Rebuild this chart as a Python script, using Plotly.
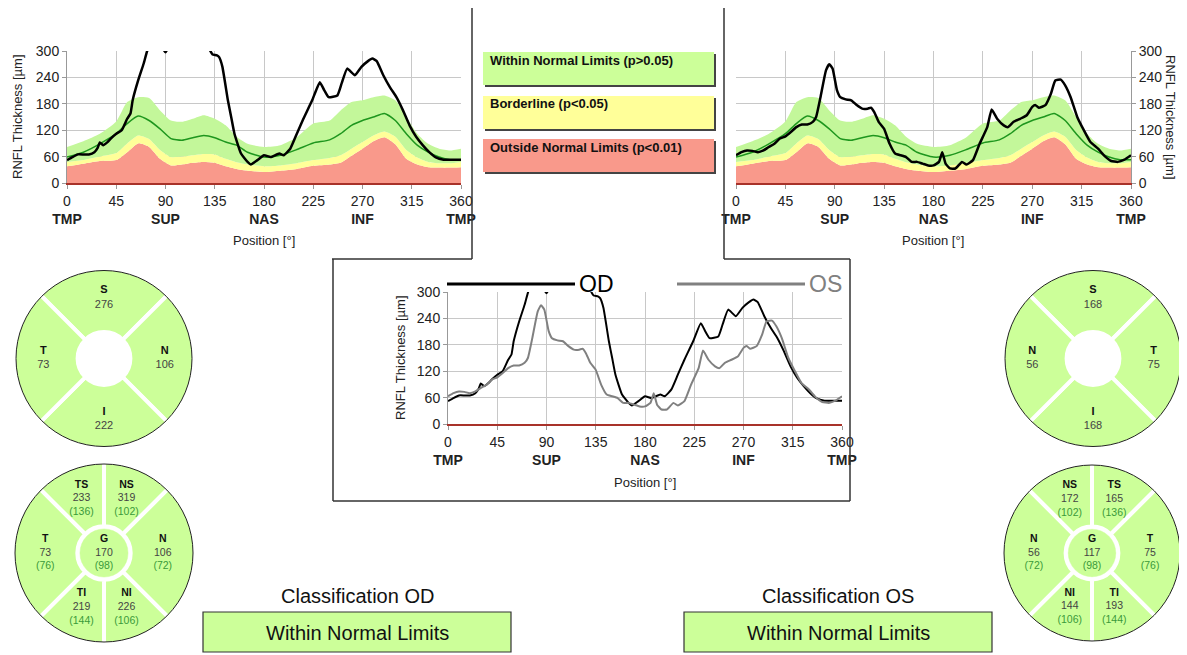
import plotly.graph_objects as go

W, H = 1187, 655
PAGE_OFFSET = 8  # default body margin of the html page

# ---------------- data ----------------
norm_deg  = [0, 15, 30, 45, 55, 65, 75, 85, 95, 105, 115, 125, 135, 145, 155, 165, 180, 195, 210, 225, 240, 250, 260, 270, 280, 290, 300, 310, 320, 330, 340, 350, 360]
norm_p95  = [82, 95, 112, 140, 184, 195, 193, 165, 142, 139, 146, 154, 146, 131, 105, 89, 82, 86, 104, 135, 142, 165, 184, 188, 195, 199, 188, 150, 112, 89, 78, 74, 78]
norm_mean = [59, 70, 89, 112, 135, 152, 142, 123, 101, 97, 103, 108, 103, 93, 86, 70, 59, 63, 76, 91, 98, 112, 131, 142, 150, 158, 142, 112, 86, 70, 59, 53, 53]
norm_p5   = [48, 52, 60, 68, 90, 108, 100, 75, 59, 60, 63, 66, 65, 55, 47, 42, 38, 40, 45, 52, 57, 63, 78, 93, 108, 117, 105, 75, 58, 48, 45, 45, 48]
norm_p1   = [38, 44, 50, 52, 70, 90, 82, 55, 40, 42, 46, 48, 46, 38, 32, 28, 25, 28, 32, 39, 42, 46, 62, 78, 95, 104, 88, 55, 42, 36, 35, 35, 36]

od_deg = [0, 5, 10, 15, 20, 25, 28, 30, 33, 37, 40, 45, 50, 55, 58, 60, 65, 70, 73, 78,
          84, 90, 96, 105, 115, 125, 131, 133, 137, 139, 142, 147, 150, 153, 159, 165, 168, 174, 180, 186,
          194, 198, 204, 210, 216, 224, 231, 235, 239, 247, 251, 256, 263, 269, 275, 279, 283, 289, 295, 301,
          307, 313, 319, 325, 331, 337, 344, 352, 360]
od_val = [52, 59, 65, 65, 65, 70, 80, 92, 86, 93, 101, 112, 120, 146, 158, 188, 233, 271, 298, 330,
          320, 297, 325, 345, 340, 330, 300, 292, 290, 286, 264, 188, 150, 112, 67, 48, 42, 52, 63, 59,
          67, 63, 78, 112, 146, 188, 229, 211, 195, 199, 227, 260, 245, 264, 277, 283, 277, 245, 218, 195,
          165, 131, 105, 86, 70, 58, 53, 53, 53]

os_deg = [0, 5, 10, 15, 20, 25, 30, 35, 40, 45, 50, 55, 60, 65, 70, 73, 77, 82, 85, 88,
          92, 95, 100, 105, 110, 115, 120, 123, 126, 130, 135, 140, 145, 150, 155, 160, 165, 170, 175, 180,
          185, 188, 191, 195, 200, 206, 210, 216, 222, 229, 233, 238, 244, 248, 253, 259, 265, 270, 273, 276,
          282, 287, 291, 296, 300, 305, 311, 317, 323, 330, 336, 342, 348, 354, 360]
os_val = [63, 70, 74, 73, 70, 74, 82, 89, 101, 106, 116, 127, 133, 133, 139, 150, 195, 256, 270, 260,
          211, 195, 190, 188, 177, 169, 169, 171, 161, 139, 123, 89, 67, 63, 59, 48, 48, 44, 40, 40,
          48, 70, 44, 33, 33, 48, 42, 52, 89, 127, 167, 146, 131, 127, 139, 146, 154, 173, 177, 171,
          177, 203, 233, 235, 222, 195, 150, 120, 93, 78, 61, 50, 48, 53, 63]

x_ticks = [0, 45, 90, 135, 180, 225, 270, 315, 360]
region_labels = {0: "TMP", 90: "SUP", 180: "NAS", 270: "INF", 360: "TMP"}
y_ticks = [0, 60, 120, 180, 240, 300]

legend_labels = ["Within Normal Limits (p&gt;0.05)", "Borderline (p&lt;0.05)", "Outside Normal Limits (p&lt;0.01)"]

# quadrant circles
od_quad_labels = ["S", "N", "I", "T"]
od_quad_theta = [90, 0, 270, 180]
od_quad_values = [276, 106, 222, 73]
os_quad_labels = ["S", "T", "I", "N"]
os_quad_theta = [90, 0, 270, 180]
os_quad_values = [168, 75, 168, 56]

# sector circles
sect_theta = [112.5, 67.5, 0, 292.5, 247.5, 180]
sect_width = [45, 45, 90, 45, 45, 90]
od_sect_labels = ["TS", "NS", "N", "NI", "TI", "T"]
od_sect_values = [233, 319, 106, 226, 219, 73]
od_sect_normals = [136, 102, 72, 106, 144, 76]
os_sect_labels = ["NS", "TS", "T", "TI", "NI", "N"]
os_sect_values = [172, 165, 75, 193, 144, 56]
os_sect_normals = [102, 136, 76, 144, 106, 72]
od_global, od_global_norm = 170, 98
os_global, os_global_norm = 117, 98

classification_od = "Within Normal Limits"
classification_os = "Within Normal Limits"

# ---------------- styling ----------------
FONT = "Arial, Liberation Sans, sans-serif"
RED = "#f9998b"
YEL = "#ffff99"
GRN = "#c3f79a"
GRN_BOX = "#ccff99"
MEAN = "#1e961e"
GRID = "#c8c8c8"
TICK_FONT = dict(size=14, color="#222", family=FONT)


def fx(x):
    return (x - PAGE_OFFSET) / W


def fy(y):
    return 1 - (y - PAGE_OFFSET) / H


fig = go.Figure()


def add_norm(xa, ya):
    sp = dict(width=0, shape="spline", smoothing=0.6)
    fig.add_trace(go.Scatter(x=norm_deg, y=norm_p1, xaxis=xa, yaxis=ya, mode="lines", line=sp,
                             fill="tozeroy", fillcolor=RED, hoverinfo="skip"))
    fig.add_trace(go.Scatter(x=norm_deg, y=norm_p5, xaxis=xa, yaxis=ya, mode="lines", line=sp,
                             fill="tonexty", fillcolor=YEL, hoverinfo="skip"))
    fig.add_trace(go.Scatter(x=norm_deg, y=norm_p95, xaxis=xa, yaxis=ya, mode="lines", line=sp,
                             fill="tonexty", fillcolor=GRN, hoverinfo="skip"))
    fig.add_trace(go.Scatter(x=norm_deg, y=norm_mean, xaxis=xa, yaxis=ya, mode="lines",
                             line=dict(color=MEAN, width=1.5, shape="spline", smoothing=0.6)))


add_norm("x", "y")
fig.add_trace(go.Scatter(x=od_deg, y=od_val, xaxis="x", yaxis="y", mode="lines",
                         line=dict(color="black", width=2.5, shape="spline", smoothing=0.4)))
add_norm("x2", "y2")
fig.add_trace(go.Scatter(x=os_deg, y=os_val, xaxis="x2", yaxis="y2", mode="lines",
                         line=dict(color="black", width=2.5, shape="spline", smoothing=0.4)))
fig.add_trace(go.Scatter(x=od_deg, y=od_val, xaxis="x3", yaxis="y3", mode="lines",
                         line=dict(color="black", width=2, shape="spline", smoothing=0.4)))
fig.add_trace(go.Scatter(x=os_deg, y=os_val, xaxis="x3", yaxis="y3", mode="lines",
                         line=dict(color="#808080", width=2, shape="spline", smoothing=0.4)))

tick_text = []
for v in x_ticks:
    lab = region_labels.get(v)
    tick_text.append(f"{v}<br><b>{lab}</b>" if lab else str(v))


def xax(x0, x1, anchor):
    return dict(domain=[fx(x0), fx(x1)], range=[0, 360], anchor=anchor, tickvals=x_ticks, ticktext=tick_text,
                showgrid=True, gridcolor=GRID, gridwidth=1, zeroline=False, showline=True,
                linecolor="#a8322a", linewidth=1.5, ticks="outside", ticklen=4, tickcolor="#999",
                tickfont=TICK_FONT, fixedrange=True, automargin=False)


def yax(y0, y1, anchor, side="left"):
    return dict(domain=[fy(y1), fy(y0)], range=[0, 300], anchor=anchor, side=side, tickvals=y_ticks,
                showgrid=True, gridcolor=GRID, gridwidth=1, zeroline=False, showline=True,
                linecolor="#999", linewidth=1, ticks="outside", ticklen=4, tickcolor="#999",
                tickfont=TICK_FONT, fixedrange=True, automargin=False)


# polar circles
def polar_layout(cx, cy, r):
    return dict(domain=dict(x=[fx(cx - r), fx(cx + r)], y=[fy(cy + r), fy(cy - r)]), bgcolor="white",
                radialaxis=dict(range=[0, 1], visible=False, showgrid=False),
                angularaxis=dict(visible=True, showgrid=False, showticklabels=False, ticks="",
                                 showline=True, linecolor="#222", linewidth=1, rotation=0,
                                 direction="counterclockwise"))


R_OUT = 1.023
BASE = 0.30


def add_quad(sub, labels, thetas, values):
    fig.add_trace(go.Barpolar(r=[R_OUT - BASE] * len(thetas), base=[BASE] * len(thetas), theta=thetas,
                              width=[90] * len(thetas), subplot=sub,
                              marker=dict(color=GRN_BOX, line=dict(color="white", width=4)), hoverinfo="skip"))
    txt = [f"<b>{l}</b><br><span style='color:#444'>{v}</span>" for l, v in zip(labels, values)]
    fig.add_trace(go.Scatterpolar(r=[0.69] * len(thetas), theta=thetas, mode="text", text=txt, subplot=sub,
                                  textfont=dict(size=11, color="#111", family=FONT), hoverinfo="skip"))


def add_sect(sub, labels, values, normals, g, gn):
    fig.add_trace(go.Barpolar(r=[R_OUT - BASE] * len(sect_theta), base=[BASE] * len(sect_theta), theta=sect_theta,
                              width=sect_width, subplot=sub,
                              marker=dict(color=GRN_BOX, line=dict(color="white", width=4)), hoverinfo="skip"))
    fig.add_trace(go.Barpolar(r=[0.27] * 4, base=[0] * 4, theta=[45, 135, 225, 315], width=[90] * 4, subplot=sub,
                              marker=dict(color=GRN_BOX, line=dict(color=GRN_BOX, width=0.5)), hoverinfo="skip"))
    txt = [f"<b>{l}</b><br><span style='color:#444'>{v}</span><br><span style='color:#3a9a3a'>({n})</span>"
           for l, v, n in zip(labels, values, normals)]
    fig.add_trace(go.Scatterpolar(r=[0.66] * len(sect_theta) + [0], theta=sect_theta + [0], mode="text",
                                  text=txt + [f"<b>G</b><br><span style='color:#444'>{g}</span><br>"
                                              f"<span style='color:#3a9a3a'>({gn})</span>"],
                                  subplot=sub, textfont=dict(size=10.5, color="#111", family=FONT),
                                  hoverinfo="skip"))


add_quad("polar", od_quad_labels, od_quad_theta, od_quad_values)
add_sect("polar2", od_sect_labels, od_sect_values, od_sect_normals, od_global, od_global_norm)
add_quad("polar3", os_quad_labels, os_quad_theta, os_quad_values)
add_sect("polar4", os_sect_labels, os_sect_values, os_sect_normals, os_global, os_global_norm)

shapes = []
ann = []
LINE = dict(color="#333", width=1.5)


def seg(x0, y0, x1, y1, line=LINE):
    shapes.append(dict(type="line", xref="paper", yref="paper", x0=fx(x0), y0=fy(y0), x1=fx(x1), y1=fy(y1),
                       line=line, layer="above"))


# frames
seg(472, 0, 472, 259)
seg(332, 259, 472, 259)
seg(724, 0, 724, 259)
seg(724, 259, 850, 259)
seg(333, 259, 333, 501)
seg(333, 501, 850, 501)
seg(850, 259, 850, 501)

# category legend boxes
leg_colors = [GRN_BOX, YEL, RED]
leg_tops = [52, 96, 139]
for lab, col, top in zip(legend_labels, leg_colors, leg_tops):
    shapes.append(dict(type="rect", xref="paper", yref="paper", x0=fx(485), x1=fx(716), y0=fy(top + 35),
                       y1=fy(top + 2), fillcolor="#444", line=dict(width=0), layer="below"))
    shapes.append(dict(type="rect", xref="paper", yref="paper", x0=fx(483), x1=fx(714), y0=fy(top + 33),
                       y1=fy(top), fillcolor=col, line=dict(width=0), layer="below"))
    ann.append(dict(text=f"<b>{lab}</b>", xref="paper", yref="paper", x=fx(488), y=fy(top + 8),
                    xanchor="left", yanchor="middle", showarrow=False,
                    font=dict(size=13, color="#111", family=FONT)))

# center legend
seg(447, 284, 575, 284, dict(color="black", width=3))
ann.append(dict(text="OD", xref="paper", yref="paper", x=fx(577), y=fy(284), xanchor="left", yanchor="middle",
                showarrow=False, font=dict(size=23, color="black", family=FONT)))
seg(677, 284, 805, 284, dict(color="#808080", width=3))
ann.append(dict(text="OS", xref="paper", yref="paper", x=fx(807), y=fy(284), xanchor="left", yanchor="middle",
                showarrow=False, font=dict(size=23, color="#808080", family=FONT)))

# axis titles
for x, y, a in [(18, 117, -90), (1170, 117, 90), (400, 358, -90)]:
    ann.append(dict(text="RNFL Thickness [µm]", xref="paper", yref="paper", x=fx(x), y=fy(y), xanchor="center",
                    yanchor="middle", textangle=a, showarrow=False, font=dict(size=13, color="#222", family=FONT)))
for x, y in [(264, 240), (933, 240), (645, 482)]:
    ann.append(dict(text="Position [°]", xref="paper", yref="paper", x=fx(x), y=fy(y), xanchor="center",
                    yanchor="middle", showarrow=False, font=dict(size=13, color="#222", family=FONT)))

# classification
for cx, eye, cls in [(357, "OD", classification_od), (838, "OS", classification_os)]:
    ann.append(dict(text=f"Classification {eye}", xref="paper", yref="paper", x=fx(cx), y=fy(596),
                    xanchor="center", yanchor="middle", showarrow=False,
                    font=dict(size=20, color="#111", family=FONT)))
    shapes.append(dict(type="rect", xref="paper", yref="paper", x0=fx(cx - 154), x1=fx(cx + 154), y0=fy(652),
                       y1=fy(612), fillcolor=GRN_BOX, line=dict(color="#333", width=1.2), layer="below"))
    ann.append(dict(text=cls, xref="paper", yref="paper", x=fx(cx), y=fy(633), xanchor="center",
                    yanchor="middle", showarrow=False, font=dict(size=20, color="#111", family=FONT)))

fig.update_layout(
    width=W, height=H, margin=dict(l=0, r=0, t=0, b=0, pad=0, autoexpand=False),
    paper_bgcolor="white", plot_bgcolor="white",
    showlegend=False, font=dict(family=FONT),
    xaxis=xax(67, 461, "y"), yaxis=yax(51, 183, "x"),
    xaxis2=xax(736, 1131, "y2"), yaxis2=yax(51, 183, "x2", side="right"),
    xaxis3=xax(448, 842, "y3"), yaxis3=yax(292, 424, "x3"),
    polar=polar_layout(104, 358.5, 88), polar2=polar_layout(104, 553, 89),
    polar3=polar_layout(1093, 358.5, 88), polar4=polar_layout(1092, 553, 88),
    shapes=shapes, annotations=ann,
)

fig.write_html("out.html")
